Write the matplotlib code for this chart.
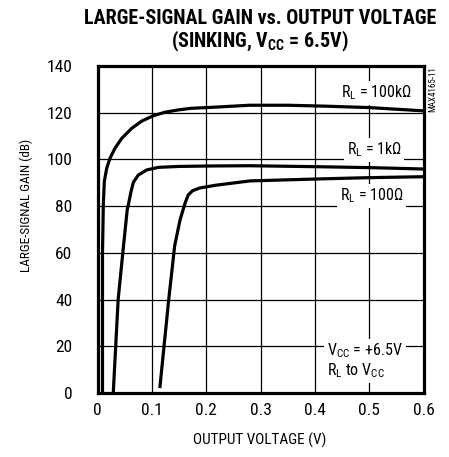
import matplotlib
matplotlib.use("Agg")
import matplotlib.pyplot as plt

FONT = ['Roboto Condensed', 'Barlow Condensed', 'Archivo Narrow', 'Liberation Sans Narrow', 'DejaVu Sans']
plt.rcParams['font.family'] = FONT

# ---- data ----
v_100k = [0.0092, 0.0092, 0.0107, 0.0125, 0.0169, 0.023, 0.0322, 0.0445, 0.0629, 0.0813, 0.1027, 0.124,
          0.1487, 0.173, 0.210, 0.280, 0.350, 0.420, 0.500, 0.600]
g_100k = [0.0, 60.0, 80.5, 90.5, 96.2, 100.5, 104.8, 109.0, 113.3, 116.4, 118.7, 120.2,
          121.2, 121.9, 122.3, 123.2, 123.2, 122.8, 122.2, 120.8]

v_1k = [0.029, 0.038, 0.047, 0.0547, 0.0567, 0.0617, 0.066, 0.075, 0.0906, 0.112, 0.149, 0.210, 0.280, 0.400, 0.500, 0.600]
g_1k = [0.0, 40.0, 61.0, 78.5, 80.5, 86.2, 90.2, 93.3, 95.5, 96.6, 97.0, 97.2, 97.3, 96.9, 96.5, 95.9]

v_100 = [0.1147, 0.131, 0.142, 0.1518, 0.161, 0.167, 0.175, 0.1886, 0.219, 0.2807, 0.400, 0.500, 0.600]
g_100 = [2.1, 39.8, 63.0, 74.0, 81.2, 84.8, 86.6, 87.8, 89.0, 90.8, 91.6, 92.2, 92.6]

x_ticks = [0, 0.1, 0.2, 0.3, 0.4, 0.5, 0.6]
x_ticklabels = ['0', '0.1', '0.2', '0.3', '0.4', '0.5', '0.6']
y_ticks = [0, 20, 40, 60, 80, 100, 120, 140]
y_ticklabels = ['0', '20', '40', '60', '80', '100', '120', '140']

W, H = 449, 457
fig = plt.figure(figsize=(W / 100, H / 100), dpi=100)
L, R, T, B = 97.5, 423.5, 66, 393
ax = fig.add_axes([L / W, 1 - B / H, (R - L) / W, (B - T) / H])

for v, g in [(v_100k, g_100k), (v_1k, g_1k), (v_100, g_100)]:
    ax.plot(v, g, color='black', lw=2.3, solid_capstyle='butt', solid_joinstyle='round', zorder=3)

ax.set_xlim(0, 0.6)
ax.set_ylim(0, 140)
ax.set_xticks(x_ticks)
ax.set_xticklabels(x_ticklabels)
ax.set_yticks(y_ticks)
ax.set_yticklabels(y_ticklabels)
ax.tick_params(axis='both', length=0, labelsize=12.5)
ax.tick_params(axis='y', pad=18)
ax.tick_params(axis='x', pad=7)
ax.grid(True, color='black', lw=0.9, zorder=1)
ax.set_axisbelow(True)
for s in ax.spines.values():
    s.set_linewidth(2.3)

LBL = 11.5
bb = dict(facecolor='white', edgecolor='none', pad=2)
ax.text(0.514, 128.4, 'R$_\\mathregular{L}$ = 100kΩ', fontsize=LBL, ha='center', va='center', bbox=bb, zorder=4)
ax.text(0.509, 104.0, 'R$_\\mathregular{L}$ = 1kΩ', fontsize=LBL, ha='center', va='center', bbox=bb, zorder=4)
ax.text(0.505, 84.3, 'R$_\\mathregular{L}$ = 100Ω', fontsize=LBL, ha='center', va='center', bbox=bb, zorder=4)
ax.text(0.4224, 13.7, 'V$_\\mathregular{CC}$ = +6.5V\nR$_\\mathregular{L}$ to V$_\\mathregular{CC}$', fontsize=LBL,
        ha='left', va='center', linespacing=1.1, bbox=bb, zorder=4)

title1 = fig.text(260 / W, 1 - 18 / H, 'LARGE-SIGNAL GAIN vs. OUTPUT VOLTAGE', fontsize=14, fontweight='bold',
                  ha='center', va='center')
title2 = fig.text(260 / W, 1 - 41 / H, '(SINKING, V$_\\mathregular{CC}$ = 6.5V)', fontsize=14, fontweight='bold',
                  ha='center', va='center')
fig.text(260 / W, 1 - 440 / H, 'OUTPUT VOLTAGE (V)', fontsize=11, ha='center', va='center')
fig.text(26 / W, 1 - 205 / H, 'LARGE-SIGNAL GAIN (dB)', fontsize=9.5, rotation=90, ha='center', va='center')
fig.text(432.7 / W, 1 - 66 / H, 'MAX4165-11', fontsize=6.5, rotation=90, ha='center', va='top')

# fit the title to the width measured on the reference (pixels)
fig.canvas.draw()
rend = fig.canvas.get_renderer()
w = title1.get_window_extent(rend).width
title1.set_fontsize(14 * 354 / w)
title2.set_fontsize(14 * 354 / w)

fig.savefig('out.png', dpi=100)
